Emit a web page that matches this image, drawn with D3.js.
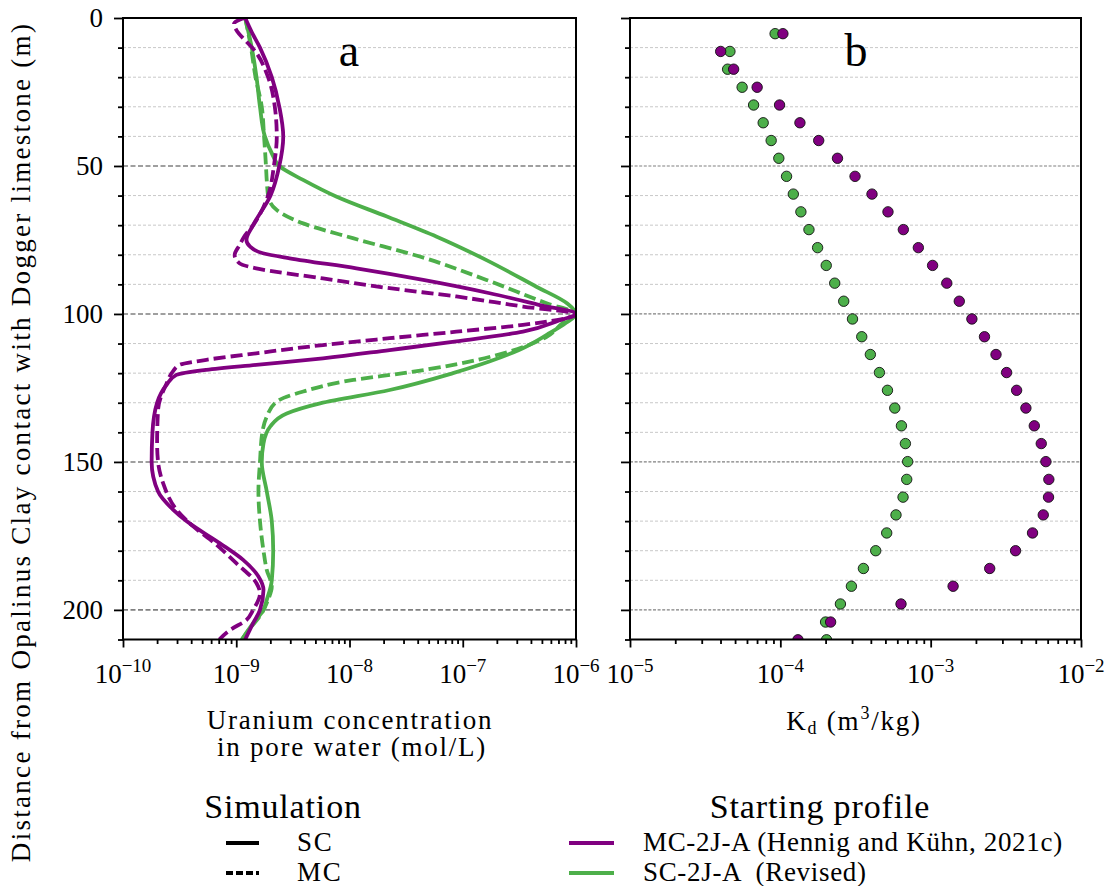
<!DOCTYPE html>
<html>
<head>
<meta charset="utf-8">
<script src="https://cdn.jsdelivr.net/npm/d3@7"></script>
<style>
  body { margin: 0; background: #fff; }
  text { font-family: "Liberation Serif", "Times New Roman", serif; fill: #000; }
  .word { letter-spacing: 0.065em; }
  .entry { letter-spacing: 0.025em; }
  .ylab { letter-spacing: 0.085em; }
</style>
</head>
<body>
<svg id="chart" width="1112" height="886"></svg>
<script>
// depth (m), uranium concentration in pore water (mol/L)
var scStartMC = [ // purple solid: SC simulation, MC-2J-A start
  [0,1.20e-9],[5,1.38e-9],[10,1.62e-9],[20,2.06e-9],[30,2.40e-9],[40,2.60e-9],[50,2.40e-9],
  [60,2.01e-9],[70,1.41e-9],[75,1.23e-9],[77.2,1.32e-9],[79.5,1.72e-9],[81.2,2.96e-9],
  [84.6,1.15e-8],[88.5,4.47e-8],[93,1.73e-7],[97,4.79e-7],[100,1.0e-6],[102.2,7.08e-7],
  [106,3.40e-7],[109.3,8.77e-8],[112.2,2.26e-8],[115,5.83e-9],[117.2,1.50e-9],[118.9,5.45e-10],
  [120.6,2.96e-10],[124,2.42e-10],[130,2.00e-10],[140,1.82e-10],[150,1.79e-10],[160,2.04e-10],
  [166.2,2.78e-10],[170,3.63e-10],[177.5,7.18e-10],[183.1,1.15e-9],[188.7,1.57e-9],
  [193.2,1.74e-9],[200,1.62e-9],[204.5,1.41e-9],[210,1.20e-9]
];
var mcStartMC = [ // purple dashed
  [0,1.17e-9],[2,9.55e-10],[4,1.00e-9],[8,1.23e-9],[10,1.38e-9],[20,1.91e-9],[30,2.19e-9],
  [40,2.28e-9],[50,2.15e-9],[60,1.91e-9],[70,1.41e-9],[74,1.17e-9],[76.7,1.07e-9],[80.1,9.68e-10],
  [82.9,1.07e-9],[84.6,1.50e-9],[88,5.83e-9],[91.3,2.26e-8],[94.1,8.77e-8],[97.5,3.40e-7],
  [100,1.0e-6],[103.7,3.40e-7],[106,8.77e-8],[108.2,2.26e-8],[110.5,5.83e-9],[113.3,1.50e-9],
  [115.5,5.45e-10],[117.2,3.16e-10],[119.5,2.75e-10],[123.4,2.43e-10],[132.4,2.04e-10],
  [143.7,2.00e-10],[150,2.04e-10],[157.2,2.26e-10],[166.2,2.98e-10],[171.8,4.17e-10],
  [177.5,6.46e-10],[184.2,1.00e-9],[191,1.51e-9],[194.4,1.62e-9],[200,1.41e-9],[203.4,1.23e-9],
  [206.8,8.81e-10],[210,7.08e-10]
];
var scStartSC = [ // green solid
  [0,1.20e-9],[10,1.37e-9],[20,1.51e-9],[30,1.62e-9],[40,1.79e-9],[45.7,2.06e-9],[50.2,2.43e-9],
  [54.7,3.89e-9],[60.4,7.71e-9],[67.1,2.14e-8],[73.9,5.89e-8],[81.8,1.62e-7],[90.8,4.47e-7],
  [96.4,8.32e-7],[100,1.0e-6],[103,8.17e-7],[107,5.55e-7],[112,3.21e-7],[116,1.74e-7],
  [120,8.20e-8],[125.7,2.26e-8],[130.2,5.50e-9],[133.6,2.79e-9],[138,2.00e-9],[143.7,1.74e-9],
  [150,1.68e-9],[160,1.86e-9],[170,2.06e-9],[180,2.12e-9],[190,2.06e-9],[196.6,1.86e-9],
  [200,1.74e-9],[204.5,1.41e-9],[210,1.12e-9]
];
var mcStartSC = [ // green dashed
  [0,1.20e-9],[10,1.35e-9],[20,1.48e-9],[30,1.68e-9],[40,1.76e-9],[50,1.83e-9],[55,1.86e-9],
  [60.4,1.92e-9],[64.9,2.28e-9],[69.4,3.89e-9],[74.4,1.07e-8],[80.6,4.17e-8],[88.5,1.62e-7],
  [96.4,5.50e-7],[100,1.0e-6],[103,7.67e-7],[107.7,5.51e-7],[113.3,2.28e-7],[117.2,8.26e-8],
  [120,2.99e-8],[122.3,1.08e-8],[126.2,3.91e-9],[129.6,2.28e-9],[134.7,1.86e-9],[140,1.70e-9],
  [150,1.62e-9],[160,1.57e-9],[170,1.62e-9],[180,1.74e-9],[186.5,1.86e-9],[192.1,2.06e-9],
  [196.6,1.91e-9],[201.1,1.68e-9],[206.8,1.29e-9],[210,1.12e-9]
];

// starting Kd profiles (m3/kg)
var kdDepth = [5.3,11.3,17.3,23.4,29.4,35.4,41.4,47.4,53.5,59.5,65.5,71.5,77.6,83.6,89.6,95.7,
  101.7,107.7,113.7,119.8,125.8,131.8,137.8,143.8,149.9,155.9,161.9,167.9,174.0,180.0,186.0,
  192.0,198.0,204.1,210.1];
var kdSC = [9.23e-5,4.62e-5,4.46e-5,5.57e-5,6.64e-5,7.69e-5,8.69e-5,9.77e-5,1.10e-4,1.22e-4,
  1.37e-4,1.55e-4,1.77e-4,2.02e-4,2.30e-4,2.64e-4,3.02e-4,3.48e-4,3.97e-4,4.56e-4,
  5.16e-4,5.77e-4,6.39e-4,6.79e-4,7.03e-4,6.93e-4,6.55e-4,5.88e-4,5.10e-4,4.31e-4,
  3.57e-4,2.97e-4,2.51e-4,2.00e-4,2.03e-4];
var kdMC = [1.04e-4,4.01e-5,4.89e-5,7.01e-5,9.88e-5,1.35e-4,1.80e-4,2.40e-4,3.14e-4,4.07e-4,
  5.20e-4,6.58e-4,8.28e-4,1.03e-3,1.28e-3,1.55e-3,1.88e-3,2.28e-3,2.72e-3,3.20e-3,
  3.73e-3,4.30e-3,4.89e-3,5.44e-3,5.84e-3,6.11e-3,6.08e-3,5.61e-3,4.76e-3,3.67e-3,
  2.47e-3,1.41e-3,6.35e-4,2.16e-4,1.31e-4];

var depthTicks = [0, 50, 100, 150, 200];
var concTicks = [-10, -9, -8, -7, -6];
var kdTicks = [-5, -4, -3, -2];

(function () {
  var purple = "#800080", green = "#4daf4a";

  var svg = d3.select("#chart");
  var plotTop = 18, plotBottom = 639.5;
  var y = d3.scaleLinear().domain([0, 210]).range([plotTop, plotBottom]);
  var xa = d3.scaleLog().domain([1e-10, 1e-6]).range([123, 576]);
  var xb = d3.scaleLog().domain([1e-5, 1e-2]).range([630, 1081]);

  var defs = svg.append("defs");
  [["clipA", xa], ["clipB", xb]].forEach(function(c) {
    defs.append("clipPath").attr("id", c[0]).append("rect")
      .attr("x", c[1].range()[0]).attr("y", plotTop)
      .attr("width", c[1].range()[1] - c[1].range()[0]).attr("height", plotBottom - plotTop);
  });

  function panel(x, exps, majorDash, majorW) {
    var g = svg.append("g");
    var x0 = x.range()[0], x1 = x.range()[1];
    // grid
    var minor = d3.range(10, 210, 10).filter(function(d) { return d % 50 != 0; });
    g.selectAll(null).data(minor).enter().append("line")
      .attr("x1", x0).attr("x2", x1).attr("y1", y).attr("y2", y)
      .attr("stroke", "#c8c8c8").attr("stroke-width", 1).attr("stroke-dasharray", "3,2");
    g.selectAll(null).data([50, 100, 150, 200]).enter().append("line")
      .attr("x1", x0).attr("x2", x1).attr("y1", y).attr("y2", y)
      .attr("stroke", "#808080").attr("stroke-width", majorW).attr("stroke-dasharray", majorDash);
    // y ticks
    var ya = g.append("g").attr("transform", "translate(" + x0 + ",0)")
      .call(d3.axisLeft(y).tickValues(depthTicks).tickSize(9).tickFormat(""));
    var ym = g.append("g").attr("transform", "translate(" + x0 + ",0)")
      .call(d3.axisLeft(y).tickValues(d3.range(0, 211, 10).filter(function(d) { return d % 50 != 0; }))
        .tickSize(5).tickFormat(""));
    // x ticks
    var decades = exps.map(function(e) { return Math.pow(10, e); });
    var xm = x.ticks().filter(function(v) {
      var l = Math.log10(v);
      return Math.abs(l - Math.round(l)) > 1e-6;
    });
    var xt = g.append("g").attr("transform", "translate(0," + plotBottom + ")")
      .call(d3.axisBottom(x).tickValues(decades).tickSize(8).tickFormat(""));
    var xmi = g.append("g").attr("transform", "translate(0," + plotBottom + ")")
      .call(d3.axisBottom(x).tickValues(xm).tickSize(4.5).tickFormat(""));
    [ya, ym, xt, xmi].forEach(function(a) {
      a.select(".domain").remove();
      a.selectAll("line").attr("stroke", "#000").attr("stroke-width", 1.8);
    });
    // x tick labels 10^n
    exps.forEach(function(e) {
      var t = g.append("text").attr("x", x(Math.pow(10, e))).attr("y", 683)
        .attr("text-anchor", "middle").attr("font-size", 27);
      t.append("tspan").text("10");
      t.append("tspan").attr("dy", -11).attr("font-size", 19).text("\u2212" + Math.abs(e));
    });
    return g;
  }

  panel(xa, concTicks, "5,2.5", 1.6);
  panel(xb, kdTicks, "3,1.6", 1.2);

  // y tick labels (left panel only)
  svg.selectAll(null).data(depthTicks).enter().append("text")
    .attr("x", 103).attr("y", function(d) { return y(d) + 9; })
    .attr("text-anchor", "end").attr("font-size", 27).text(function(d) { return d; });

  // concentration profiles
  var line = d3.line()
    .y(function(d) { return y(d[0]); })
    .x(function(d) { return xa(d[1]); })
    .curve(d3.curveMonotoneY);
  var series = [
    { data: scStartSC, color: green, dash: null },
    { data: mcStartSC, color: green, dash: "12,5" },
    { data: scStartMC, color: purple, dash: null },
    { data: mcStartMC, color: purple, dash: "12,5" }
  ];
  var lg = svg.append("g").attr("clip-path", "url(#clipA)");
  series.forEach(function(s) {
    lg.append("path").datum(s.data).attr("d", line)
      .attr("fill", "none").attr("stroke", s.color).attr("stroke-width", 3.8)
      .attr("stroke-dasharray", s.dash).attr("stroke-linejoin", "round");
  });

  // Kd points
  var pg = svg.append("g").attr("clip-path", "url(#clipB)");
  [[kdSC, green], [kdMC, purple]].forEach(function(s) {
    pg.selectAll(null).data(kdDepth).enter().append("circle")
      .attr("cx", function(d, i) { return xb(s[0][i]); })
      .attr("cy", function(d) { return y(d); })
      .attr("r", 5.2).attr("fill", s[1]).attr("stroke", "#111").attr("stroke-width", 0.9);
  });

  // frames
  [xa, xb].forEach(function(x) {
    svg.append("rect").attr("x", x.range()[0]).attr("y", plotTop)
      .attr("width", x.range()[1] - x.range()[0]).attr("height", plotBottom - plotTop)
      .attr("fill", "none").attr("stroke", "#000").attr("stroke-width", 2);
  });

  // panel letters
  svg.append("text").attr("x", 349).attr("y", 66).attr("text-anchor", "middle").attr("font-size", 46).text("a");
  svg.append("text").attr("x", 856).attr("y", 66).attr("text-anchor", "middle").attr("font-size", 46).text("b");

  // axis labels
  svg.append("text").attr("class", "word").attr("x", 350).attr("y", 729).attr("text-anchor", "middle")
    .attr("font-size", 27).text("Uranium concentration");
  svg.append("text").attr("class", "word").attr("x", 352).attr("y", 756).attr("text-anchor", "middle")
    .attr("font-size", 27).text("in pore water (mol/L)");
  var kd = svg.append("text").attr("class", "word").attr("x", 854).attr("y", 730)
    .attr("text-anchor", "middle").attr("font-size", 27);
  kd.append("tspan").text("K");
  kd.append("tspan").attr("font-size", 18).attr("dy", 4).text("d");
  kd.append("tspan").attr("dy", -4).text(" (m");
  kd.append("tspan").attr("font-size", 18).attr("dy", -11).text("3");
  kd.append("tspan").attr("dy", 11).text("/kg)");

  svg.append("text").attr("class", "ylab")
    .attr("transform", "translate(30,442) rotate(-90)")
    .attr("text-anchor", "middle").attr("font-size", 27)
    .text("Distance from Opalinus Clay contact with Dogger limestone (m)");

  // legends
  var simTypes = [{ label: "SC", dash: null }, { label: "MC", dash: "7,3" }];
  var startTypes = [
    { label: "MC-2J-A (Hennig and K\u00fchn, 2021c)", color: purple },
    { label: "SC-2J-A  (Revised)", color: green }
  ];
  svg.append("text").attr("class", "entry").attr("x", 283).attr("y", 818).attr("text-anchor", "middle")
    .attr("font-size", 34).text("Simulation");
  svg.append("text").attr("class", "entry").attr("x", 820).attr("y", 818).attr("text-anchor", "middle")
    .attr("font-size", 34).text("Starting profile");
  simTypes.forEach(function(s, i) {
    var yy = 843 + i * 30;
    svg.append("line").attr("x1", 226).attr("x2", 259).attr("y1", yy).attr("y2", yy)
      .attr("stroke", "#000").attr("stroke-width", 3.8).attr("stroke-dasharray", s.dash);
    svg.append("text").attr("class", "word").attr("x", 297).attr("y", yy + 8)
      .attr("font-size", 27).text(s.label);
  });
  startTypes.forEach(function(s, i) {
    var yy = 843 + i * 30;
    svg.append("line").attr("x1", 569).attr("x2", 614).attr("y1", yy).attr("y2", yy)
      .attr("stroke", s.color).attr("stroke-width", 3.8);
    svg.append("text").attr("class", "entry").attr("x", 643).attr("y", yy + 8)
      .attr("font-size", 27).style("white-space", "pre").text(s.label);
  });
}());
</script>
</body>
</html>
